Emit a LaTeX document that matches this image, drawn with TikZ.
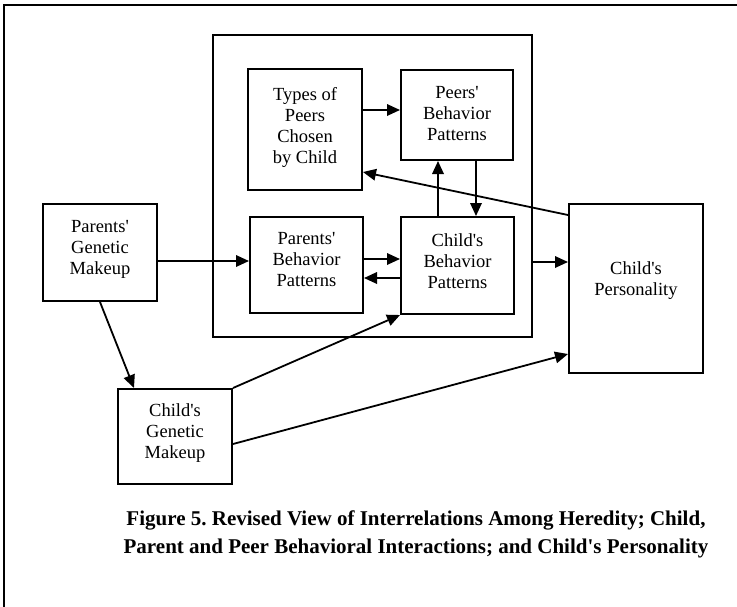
\documentclass[tikz,border=0pt]{standalone}
\usepackage{fontspec}
\setmainfont{Liberation Serif}
\usetikzlibrary{arrows.meta,calc}
% straight apostrophe
\newcommand{\ap}{\textquotesingle}
\frenchspacing
\begin{document}
\begin{tikzpicture}[x=1pt,y=-1pt,
  box/.style={draw, line width=2pt, rectangle, inner sep=0pt},
  lab/.style={align=center, inner sep=0pt, font=\fontsize{18.5}{21}\selectfont},
  arr/.style={line width=1.8pt, -{Triangle[length=13pt,width=11.5pt]}}]
\useasboundingbox (0,0) rectangle (737,606);

% page frame (open to the right and bottom)
\draw[line width=2pt] (4,615) -- (4,5) -- (745,5);

% frame around the behavioural interactions
\node[box, minimum width=319.5, minimum height=302] (inner) at (372.25,186) {};

% boxes
\node[box, minimum width=114, minimum height=121,
      label={[lab, yshift=2pt]center:Types of\\Peers\\Chosen\\by Child}] (types) at (305,129.5) {};
\node[box, minimum width=112, minimum height=90,
      label={[lab, yshift=1pt]center:Peers\ap\\Behavior\\Patterns}] (peers) at (457,115) {};
\node[box, minimum width=113, minimum height=96,
      label={[lab, yshift=5pt]center:Parents\ap\\Behavior\\Patterns}] (pb) at (306.5,265) {};
\node[box, minimum width=113, minimum height=97,
      label={[lab, yshift=4.5pt]center:Child\ap s\\Behavior\\Patterns}] (cb) at (457.5,265.5) {};
\node[box, minimum width=114, minimum height=97,
      label={[lab, yshift=3.5pt]center:Parents\ap\\Genetic\\Makeup}] (pg) at (100,252.5) {};
\node[box, minimum width=114, minimum height=95,
      label={[lab, yshift=3.5pt]center:Child\ap s\\Genetic\\Makeup}] (cg) at (175,436.5) {};
\node[box, minimum width=134, minimum height=169,
      label={[lab, yshift=8pt]center:Child\ap s\\Personality}] (pers) at (636,288.5) {};

% levels of the straight connectors
\coordinate (hA) at (0,110);
\coordinate (hB) at (0,261);
\coordinate (hC) at (0,259);
\coordinate (hD) at (0,278);
\coordinate (hE) at (0,262);
\coordinate (vA) at (438,0);
\coordinate (vB) at (476,0);

% connectors
\draw[arr] (types.east |- hA) -- (peers.west |- hA);
\draw[arr] (pg.east |- hB) -- (pb.west |- hB);
\draw[arr] (pb.east |- hC) -- (cb.west |- hC);
\draw[arr] (cb.west |- hD) -- (pb.east |- hD);
\draw[arr] (cb.north -| vA) -- (peers.south -| vA);
\draw[arr] (peers.south -| vB) -- (cb.north -| vB);
\draw[arr] (inner.east |- hE) -- (pers.west |- hE);
\draw[arr] ($(pers.north west)+(0,12)$) -- ($(types.east)+(0,42.5)$);
\draw[arr] (pg.south) -- ($(cg.north west)+(17,0)$);
\draw[arr] (cg.north east) -- (cb.south west);
\draw[arr] ($(cg.north east)+(0,56)$) -- ($(pers.south west)+(0,-20)$);

% caption
\node[align=center, inner sep=0pt, font=\bfseries\fontsize{21}{28}\selectfont] (cap) at (416,534)
  {Figure 5. Revised View of Interrelations Among Heredity; Child,\\
   Parent and Peer Behavioral Interactions; and Child\ap s Personality};
\end{tikzpicture}
\end{document}
